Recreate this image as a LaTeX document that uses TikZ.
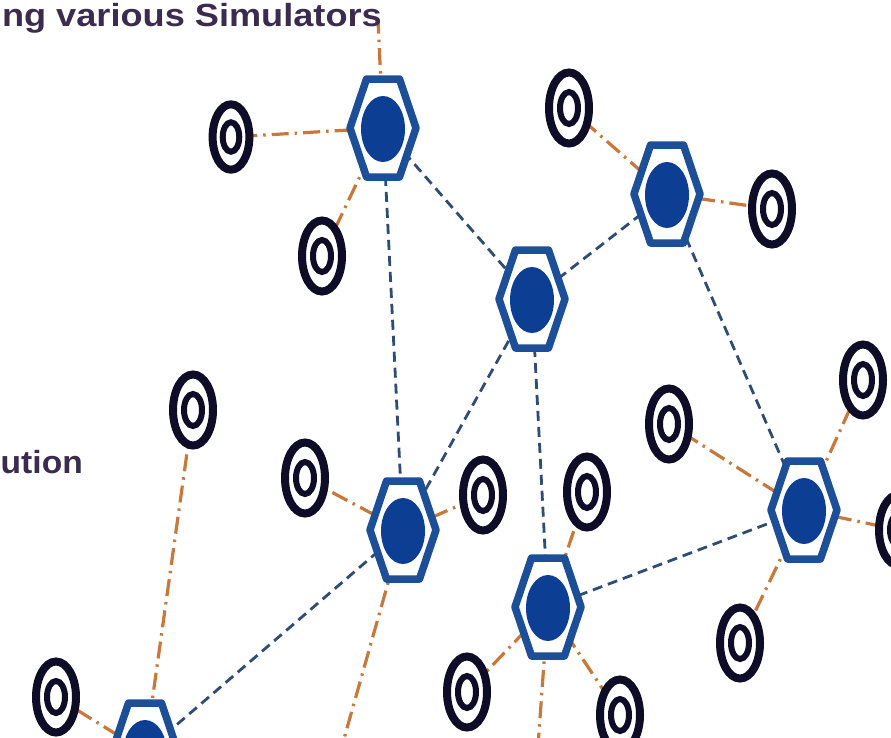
\documentclass[tikz,border=0pt]{standalone}
\usepackage{fontspec}
\setmainfont{Liberation Sans}
\usetikzlibrary{backgrounds}
\definecolor{titlecol}{HTML}{3B2B4E}
\definecolor{linkor}{HTML}{C8783A}
\definecolor{linkbl}{HTML}{2F4C72}
\definecolor{hexcol}{HTML}{1D4E98}
\definecolor{hubcol}{HTML}{0C3F94}
\definecolor{tgtcol}{HTML}{0E0C26}
\tikzset{
  x=1pt, y=-1pt,
  orlink/.style={draw=linkor, line width=3.2pt, dash pattern=on 17pt off 6pt on 2.5pt off 6pt},
  bllink/.style={draw=linkbl, line width=2.8pt, dash pattern=on 10pt off 6pt},
  hub/.pic={
    \draw[draw=hexcol, line width=7.5pt, fill=white, line join=round]
      (-33,0) -- (-16.5,-49) -- (16.5,-49) -- (33,0) -- (16.5,49) -- (-16.5,49) -- cycle;
    \fill[hubcol] (0,1) ellipse [x radius=22, y radius=33];
  },
  target/.pic={
    \draw[draw=tgtcol, line width=8pt, fill=white] (0,0) ellipse [x radius=20, y radius=35.5];
    \draw[draw=tgtcol, line width=6pt] (0,0) ellipse [x radius=9, y radius=16];
  },
  titletext/.style={text=titlecol, font=\fontsize{32}{38}\bfseries\selectfont, inner sep=0pt}
}
\begin{document}
\begin{tikzpicture}
\useasboundingbox (0,0) rectangle (891,737);
% hubs
\coordinate (h1) at (383,128);
\coordinate (h2) at (667,194);
\coordinate (h3) at (532,299);
\coordinate (h4) at (403,530);
\coordinate (h5) at (548,607);
\coordinate (h6) at (804,510);
\coordinate (h7) at (145,752);
% targets
\coordinate (t1) at (231,137);
\coordinate (t2) at (569,108);
\coordinate (t3) at (772,209);
\coordinate (t4) at (322,256);
\coordinate (t5) at (193,410);
\coordinate (t6) at (305,478);
\coordinate (t7) at (483,495);
\coordinate (t8) at (587,492);
\coordinate (t9) at (669,424);
\coordinate (t10) at (863,380);
\coordinate (t11) at (899,530);
\coordinate (t12) at (740,643);
\coordinate (t13) at (467,692);
\coordinate (t14) at (620,715);
\coordinate (t15) at (56,697);
% loose ends
\coordinate (e1) at (378,20);
\coordinate (e4) at (338,760);
\coordinate (e5) at (537,760);

% links
\draw[bllink] (h1) -- (h3);
\draw[bllink] (h1) -- (h4);
\draw[bllink] (h2) -- (h3);
\draw[bllink] (h3) -- (h4);
\draw[bllink] (h3) -- (h5);
\draw[bllink] (h2) -- (h6);
\draw[bllink] (h5) -- (h6);
\draw[bllink] (h4) -- (h7);

\draw[orlink] (h1) -- (t1);
\draw[orlink] (h1) -- (t4);
\draw[orlink] (h1) -- (e1);
\draw[orlink] (h2) -- (t2);
\draw[orlink] (h2) -- (t3);
\draw[orlink] (h4) -- (t6);
\draw[orlink] (h4) -- (t7);
\draw[orlink] (h4) -- (e4);
\draw[orlink] (h7) -- (t5);
\draw[orlink] (h7) -- (t15);
\draw[orlink] (h5) -- (t8);
\draw[orlink] (h5) -- (t13);
\draw[orlink] (h5) -- (t14);
\draw[orlink] (h5) -- (e5);
\draw[orlink] (h6) -- (t9);
\draw[orlink] (h6) -- (t10);
\draw[orlink] (h6) -- (t11);
\draw[orlink] (h6) -- (t12);

% hub shapes
\foreach \h in {h1,h2,h3,h4,h5,h6,h7} { \pic at (\h) {hub}; }
% targets
\pic[scale=0.92] at (t1) {target};
\foreach \t in {t2,t3,t4,t5,t6,t7,t8,t9,t10,t11,t12,t13,t14,t15} { \pic at (\t) {target}; }

% texts
\node[titletext, anchor=base east] (title) at (382,26) {\scalebox{1.13}[1]{ng various Simulators}};
\node[titletext, anchor=base east] (sub) at (83,473) {\scalebox{1.05}[1]{ution}};
\end{tikzpicture}
\end{document}
